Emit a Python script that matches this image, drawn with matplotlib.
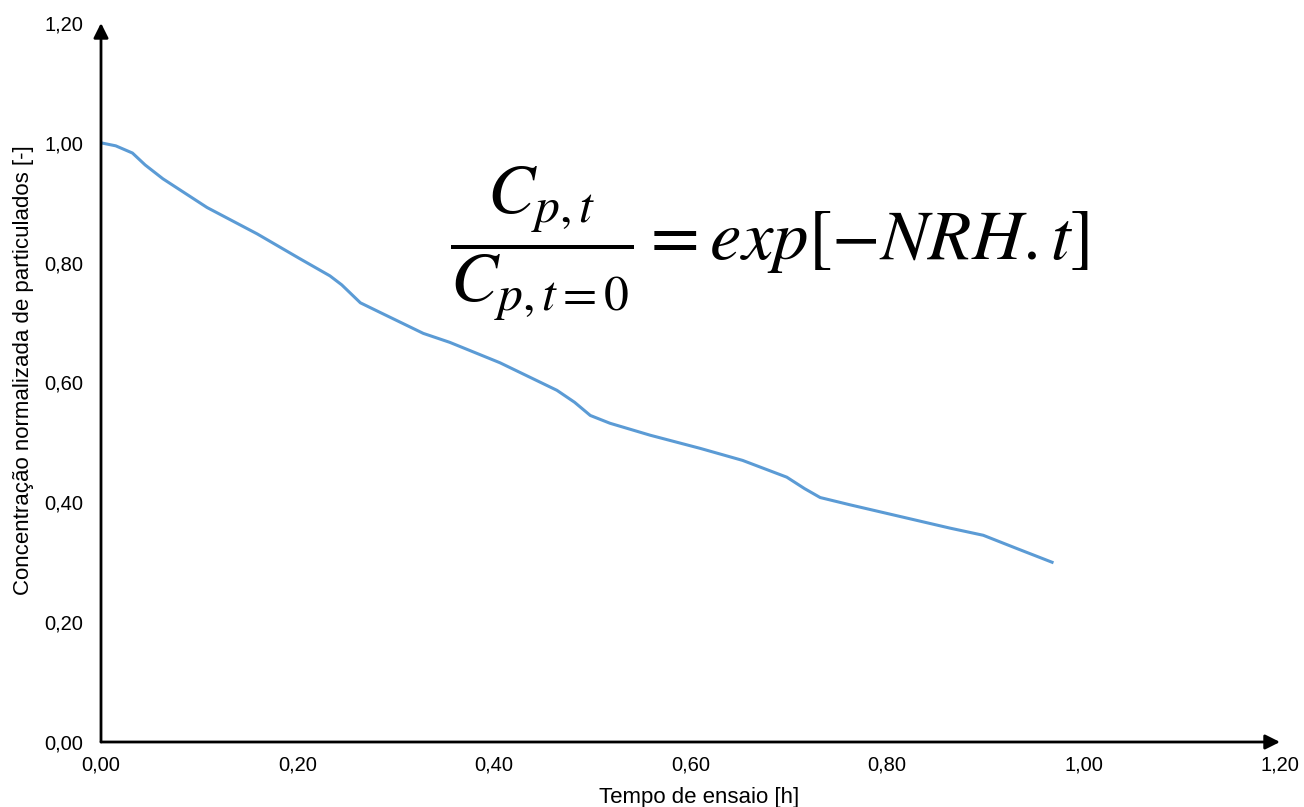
import numpy as np
import matplotlib
matplotlib.use('Agg')
import matplotlib.pyplot as plt

tempo = [0.000, 0.015, 0.032, 0.045, 0.063, 0.108, 0.159, 0.202, 0.233, 0.245,
         0.264, 0.284, 0.328, 0.355, 0.406, 0.464, 0.482, 0.498, 0.518,
         0.559, 0.610, 0.653, 0.698, 0.716, 0.732, 0.762, 0.864, 0.898,
         0.932, 0.968]
conc = [1.000, 0.995, 0.983, 0.963, 0.940, 0.892, 0.848, 0.807, 0.778, 0.763,
        0.733, 0.717, 0.682, 0.667, 0.633, 0.587, 0.567, 0.545, 0.532,
        0.512, 0.490, 0.470, 0.442, 0.423, 0.408, 0.396, 0.357, 0.345,
        0.323, 0.300]
ticks = [0.0, 0.2, 0.4, 0.6, 0.8, 1.0, 1.2]
tick_labels = ['0,00', '0,20', '0,40', '0,60', '0,80', '1,00', '1,20']

plt.rcParams['font.family'] = ['Liberation Sans', 'DejaVu Sans']
plt.rcParams['mathtext.fontset'] = 'stix'

fig = plt.figure(figsize=(13.04, 8.07), dpi=100)
ax = fig.add_axes([101 / 1304, 65 / 807, 1179 / 1304, 719 / 807])

ax.plot(tempo, conc, color='#5B9BD5', lw=2.2, solid_joinstyle='round')

ax.set_xlim(0, 1.2)
ax.set_ylim(0, 1.2)
ax.set_xticks(ticks)
ax.set_xticklabels(tick_labels)
ax.set_yticks(ticks)
ax.set_yticklabels(tick_labels)
ax.tick_params(length=0, labelsize=14.5, colors='black')
ax.tick_params(axis='x', pad=10)
ax.tick_params(axis='y', pad=13)

for s in ax.spines.values():
    s.set_visible(False)

# axes drawn as arrows
arrow = dict(arrowstyle='-|>', color='black', lw=2, mutation_scale=22,
             shrinkA=0, shrinkB=0)
ax.annotate('', xy=(1.2, 0), xytext=(0, 0), arrowprops=arrow, annotation_clip=False)
ax.annotate('', xy=(0, 1.2), xytext=(0, 0), arrowprops=arrow, annotation_clip=False)

ax.set_xlabel('Tempo de ensaio [h]', fontsize=16)
ax.xaxis.set_label_coords(0.507, -0.063)
ax.set_ylabel('Concentração normalizada de particulados [-]', fontsize=16)
ax.yaxis.set_label_coords(-0.057, 0.517)

ax.text(0.681, 0.832, r'$\dfrac{C_{p,t}}{C_{p,t=0}} = exp[-NRH.t]$',
        fontsize=51, ha='center', va='center')

fig.savefig('out.png', dpi=100)
